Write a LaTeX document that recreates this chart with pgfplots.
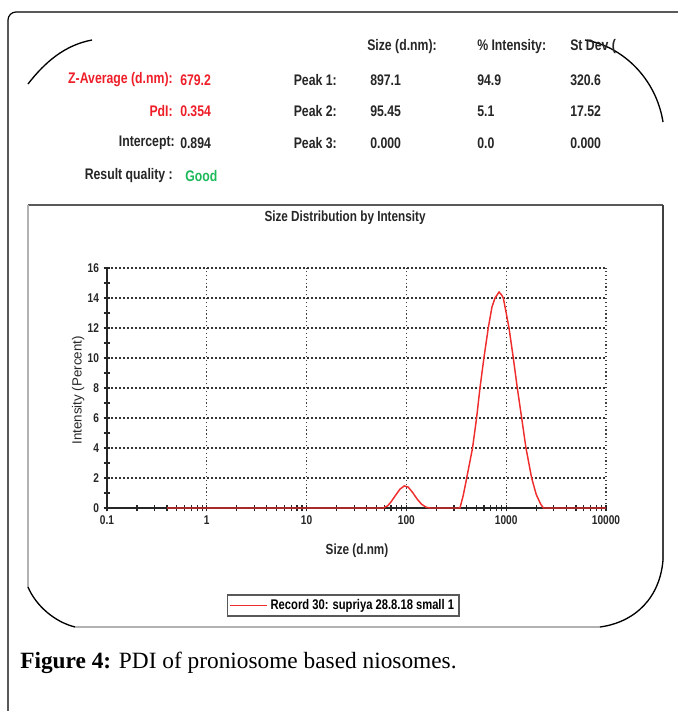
\documentclass[border=0pt]{standalone}
\usepackage{pgfplots}
\pgfplotsset{compat=1.18}
\usepackage{fontspec}
\setmainfont{Liberation Serif}
\newfontfamily\nar[FakeStretch=0.8]{Liberation Sans}
\newfontfamily\sans{Liberation Sans}
\definecolor{curve}{RGB}{240,45,45}
\definecolor{zred}{RGB}{238,30,40}
\definecolor{good}{RGB}{30,185,90}
\begin{document}
\begin{tikzpicture}
\begin{scope}[x=0.75pt,y=-0.75pt]
\useasboundingbox (0,0) rectangle (678,711);
% outer frame
\draw[line width=0.9pt, rounded corners=6pt] (8,716) -- (8,12) -- (684,12);
% top arcs of the masked screenshot
\draw[line width=1pt] (28,84) .. controls (45,62) and (65,45) .. (92,40);
\draw[line width=1pt] (585,40) .. controls (622,46) and (656,78) .. (663,122);
% chart panel
\draw[line width=1.6pt, black!65] (28,205) -- (663,205);
\draw[line width=0.8pt, black!30] (28,205) -- (28,587);
\draw[line width=1.6pt, black!75] (663,205) -- (663,560);
\draw[line width=0.8pt, black!30] (75,627) -- (600,627);
\draw[line width=1pt] (28,587) .. controls (36,606) and (55,622) .. (75,627);
\draw[line width=1pt] (663,560) .. controls (660,597) and (636,622) .. (600,627);
% table text
\begin{scope}[every node/.style={font=\nar\bfseries\fontsize{11.5}{13}\selectfont, inner sep=0pt, text=black!85}]
\node[anchor=west] at (367,47) {Size (d.nm):};
\node[anchor=west] at (477,47) {\% Intensity:};
\node[anchor=west] at (570,47) {St Dev (};
\node[anchor=east, text=zred] at (173,80) {Z-Average (d.nm):};
\node[anchor=west, text=zred] at (180,80) {679.2};
\node[anchor=east, text=zred] at (173,111) {PdI:};
\node[anchor=west, text=zred] at (180,111) {0.354};
\node[anchor=east] at (175,143) {Intercept:};
\node[anchor=west] at (180,143) {0.894};
\node[anchor=east] at (173,176) {Result quality :};
\node[anchor=west, text=good] at (185,176) {Good};
\node[anchor=east] at (337,80) {Peak 1:};
\node[anchor=east] at (337,111) {Peak 2:};
\node[anchor=east] at (337,143) {Peak 3:};
\node[anchor=west] at (370,80) {897.1};
\node[anchor=west] at (370,111) {95.45};
\node[anchor=west] at (370,143) {0.000};
\node[anchor=west] at (477,80) {94.9};
\node[anchor=west] at (477,111) {5.1};
\node[anchor=west] at (477,143) {0.0};
\node[anchor=west] at (570,80) {320.6};
\node[anchor=west] at (570,111) {17.52};
\node[anchor=west] at (570,143) {0.000};
\end{scope}
% caption
\node[anchor=base west, inner sep=0pt, font=\fontsize{17.5}{20}\selectfont] at (20,668) {\textbf{Figure 4:} PDI of proniosome based niosomes.};
\end{scope}
\begin{axis}[
  at={(80.25pt,-381pt)}, anchor=south west,
  scale only axis, width=374.25pt, height=180pt,
  xmode=log, xmin=0.1, xmax=10000, ymin=0, ymax=16,
  axis x line=bottom, axis y line=left,
  axis line style={-, line width=1.3pt, black!85},
  xtick={0.1,1,10,100,1000,10000},
  xticklabels={0.1,1,10,100,1000,10000},
  ytick={0,2,...,16}, minor ytick={1,3,...,15},
  tick align=center, major tick length=5pt, minor tick length=5pt,
  tick style={black!85, line width=0.9pt},
  xmajorgrids, ymajorgrids,
  major x grid style={black!75, line width=1pt, dash pattern=on 0.9pt off 2pt},
  major y grid style={black!80, line width=1.5pt, dash pattern=on 1.3pt off 1.7pt},
  /pgf/number format/assume math mode=true,
  ticklabel style={font=\nar\bfseries\fontsize{9.5}{11}\selectfont, text=black!85},
  title={Size Distribution by Intensity},
  title style={at={(axis description cs:0.477,1.175)}, anchor=center, font=\nar\bfseries\fontsize{11}{13}\selectfont, text=black!85},
  xlabel={Size (d.nm)},
  xlabel style={at={(axis description cs:0.501,-0.179)}, anchor=center, font=\nar\bfseries\fontsize{11}{13}\selectfont, text=black!85},
  ylabel={Intensity (Percent)},
  ylabel style={at={(axis description cs:-0.058,0.49)}, anchor=center, rotate=0, font=\sans\fontsize{10}{12}\selectfont, text=black!85},
  legend style={at={(axis description cs:0.473,-0.406)}, anchor=center, draw=black!65, line width=1.2pt, font=\nar\bfseries\fontsize{10.5}{12}\selectfont, inner sep=1.5pt},
  legend cell align=left,
  legend image code/.code={\draw[curve, line width=1pt] (0pt,0pt) -- (28pt,0pt);},
]
\addplot[curve, line width=1.1pt] coordinates {
(0.4,0) (1,0) (10,0) (50,0) (58.8,0) (65,0.15) (70,0.4) (78,0.85) (86,1.25)
(95,1.47) (104,1.4) (115,1.05) (128,0.6) (142,0.25) (158,0.05) (172,0)
(300,0) (344,0) (370,0.8) (402,2) (430,3) (460,4) (505,6) (546,8) (598,10)
(661,12) (720,13.4) (773,14) (848,14.4) (900,14.2) (935,14) (1000,13)
(1067,12) (1178,10) (1292,8) (1429,6) (1578,4) (1799,2) (2000,0.9)
(2200,0.3) (2355,0) (10000,0)
};
\addlegendentry{Record 30: supriya 28.8.18 small 1}
\end{axis}
\end{tikzpicture}
\end{document}
